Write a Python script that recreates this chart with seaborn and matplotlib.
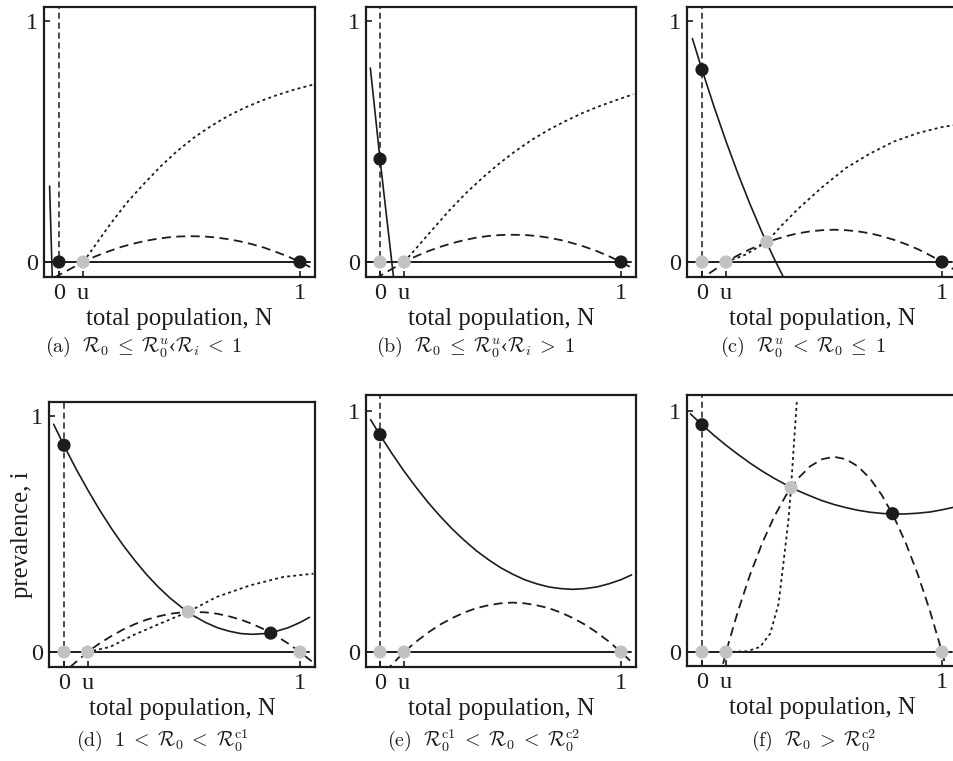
import matplotlib
matplotlib.use("Agg")
import matplotlib.pyplot as plt
import seaborn as sns

# x positions of the tick marks: 0, u, 1
tick_pos = [0.0, 0.1, 1.0]
tick_labels = ["0", "u", "1"]

# dashed parabola (shared x grid)
dash_x = [-0.02, 0.1, 0.15, 0.2, 0.25, 0.3, 0.35, 0.4, 0.45, 0.5, 0.55, 0.6, 0.65,
          0.7, 0.75, 0.8, 0.85, 0.9, 0.95, 1.0, 1.05]
a_dash_y = [-0.065, 0, 0.023, 0.042, 0.060, 0.074, 0.086, 0.095, 0.102, 0.106, 0.107,
            0.106, 0.102, 0.095, 0.086, 0.074, 0.060, 0.042, 0.023, 0, -0.025]
b_dash_y = [-0.069, 0, 0.024, 0.045, 0.063, 0.078, 0.091, 0.101, 0.108, 0.112, 0.113,
            0.112, 0.108, 0.101, 0.091, 0.078, 0.063, 0.045, 0.024, 0, -0.027]
c_dash_y = [-0.081, 0, 0.028, 0.053, 0.074, 0.092, 0.107, 0.119, 0.127, 0.132, 0.134,
            0.132, 0.127, 0.119, 0.107, 0.092, 0.074, 0.053, 0.028, 0, -0.031]
d_dash_y = [-0.103, 0, 0.036, 0.067, 0.095, 0.118, 0.137, 0.151, 0.162, 0.168, 0.170,
            0.168, 0.162, 0.151, 0.137, 0.118, 0.095, 0.067, 0.036, 0, -0.040]
e_dash_y = [-0.124, 0, 0.043, 0.081, 0.114, 0.141, 0.164, 0.182, 0.194, 0.202, 0.205,
            0.202, 0.194, 0.182, 0.164, 0.141, 0.114, 0.081, 0.043, 0, -0.048]
f_dash_y = [-0.49, 0, 0.17, 0.32, 0.45, 0.56, 0.65, 0.72, 0.77, 0.80, 0.81,
            0.80, 0.77, 0.72, 0.65, 0.56, 0.45, 0.32, 0.17, 0, -0.19]

# solid curves
a_solid_x = [-0.039, -0.028]
a_solid_y = [0.315, -0.062]
b_solid_x = [-0.04, 0.0, 0.03, 0.056]
b_solid_y = [0.805, 0.427, 0.165, -0.062]
c_solid_x = [-0.04, 0.0, 0.05, 0.1, 0.15, 0.2, 0.25, 0.3, 0.343]
c_solid_y = [0.927, 0.798, 0.645, 0.501, 0.366, 0.24, 0.123, 0.015, -0.07]
d_solid_x = [-0.044, 0, 0.05, 0.1, 0.15, 0.2, 0.25, 0.3, 0.35, 0.4, 0.45, 0.5, 0.55,
             0.6, 0.65, 0.7, 0.75, 0.8, 0.85, 0.9, 0.95, 1.0, 1.04]
d_solid_y = [0.965, 0.875, 0.778, 0.688, 0.603, 0.525, 0.453, 0.388, 0.328, 0.275,
             0.228, 0.188, 0.153, 0.125, 0.103, 0.088, 0.078, 0.075, 0.078, 0.088,
             0.103, 0.125, 0.147]
e_solid_x = [-0.039, 0, 0.05, 0.1, 0.15, 0.2, 0.25, 0.3, 0.35, 0.4, 0.45, 0.5, 0.55,
             0.6, 0.65, 0.7, 0.75, 0.8, 0.85, 0.9, 0.95, 1.0, 1.044]
e_solid_y = [0.964, 0.90, 0.823, 0.75, 0.683, 0.62, 0.563, 0.51, 0.463, 0.42, 0.383,
             0.35, 0.323, 0.30, 0.283, 0.27, 0.263, 0.26, 0.263, 0.27, 0.283, 0.30, 0.32]
f_solid_x = [-0.048, 0, 0.05, 0.1, 0.15, 0.2, 0.25, 0.3, 0.35, 0.4, 0.45, 0.5, 0.55,
             0.6, 0.65, 0.7, 0.75, 0.8, 0.85, 0.9, 0.95, 1.0, 1.046]
f_solid_y = [0.988, 0.943, 0.899, 0.858, 0.820, 0.784, 0.751, 0.721, 0.694, 0.669,
             0.648, 0.628, 0.612, 0.599, 0.588, 0.580, 0.575, 0.572, 0.573, 0.576,
             0.581, 0.590, 0.600]

# dotted curves
a_dot_x = [0.101, 0.145, 0.214, 0.284, 0.353, 0.422, 0.491, 0.560, 0.629, 0.698,
           0.768, 0.837, 0.906, 0.975, 1.058]
a_dot_y = [0, 0.062, 0.159, 0.249, 0.325, 0.397, 0.461, 0.516, 0.563, 0.604,
           0.639, 0.668, 0.693, 0.715, 0.737]
b_dot_x = [0.1, 0.145, 0.217, 0.286, 0.355, 0.425, 0.494, 0.563, 0.632, 0.701,
           0.770, 0.840, 0.909, 0.978, 1.051]
b_dot_y = [0, 0.051, 0.134, 0.212, 0.284, 0.349, 0.408, 0.461, 0.508, 0.549,
           0.585, 0.618, 0.646, 0.671, 0.696]
c_dot_x = [0.1, 0.18, 0.27, 0.33, 0.4, 0.5, 0.6, 0.7, 0.8, 0.9, 1.0, 1.046]
c_dot_y = [0, 0.03, 0.083, 0.15, 0.22, 0.31, 0.39, 0.45, 0.50, 0.535, 0.56, 0.567]
d_dot_x = [0.098, 0.194, 0.293, 0.406, 0.526, 0.646, 0.788, 0.929, 1.057]
d_dot_y = [0, 0.021, 0.071, 0.12, 0.17, 0.233, 0.282, 0.318, 0.332]
f_dot_x = [0.1, 0.187, 0.242, 0.284, 0.319, 0.339, 0.360, 0.371, 0.384, 0.395]
f_dot_y = [0, 0.003, 0.021, 0.076, 0.2, 0.367, 0.546, 0.682, 0.878, 1.037]

# equilibria: black = stable, grey = unstable
a_black = ([0, 1], [0, 0]);            a_grey = ([0.1], [0])
b_black = ([0, 1], [0.427, 0]);        b_grey = ([0, 0.1], [0, 0])
c_black = ([0, 1], [0.798, 0]);        c_grey = ([0, 0.1, 0.27], [0, 0, 0.083])
d_black = ([0, 0.876], [0.876, 0.08]); d_grey = ([0, 0.1, 0.526, 1], [0, 0, 0.17, 0])
e_black = ([0], [0.902]);              e_grey = ([0, 0.1, 1], [0, 0, 0])
f_black = ([0, 0.794], [0.943, 0.574]); f_grey = ([0, 0.1, 0.371, 1], [0, 0, 0.682, 0])

captions = [
    r"$\mathrm{(a)}\ \ \mathcal{R}_0 \;\leq\; \mathcal{R}_0^{u}$" + "‹" + r"$\mathcal{R}_i \;<\; 1$",
    r"$\mathrm{(b)}\ \ \mathcal{R}_0 \;\leq\; \mathcal{R}_0^{u}$" + "‹" + r"$\mathcal{R}_i \;>\; 1$",
    r"$\mathrm{(c)}\ \ \mathcal{R}_0^{u} \;<\; \mathcal{R}_0 \;\leq\; 1$",
    r"$\mathrm{(d)}\ \ 1 \;<\; \mathcal{R}_0 \;<\; \mathcal{R}_0^{\mathrm{c1}}$",
    r"$\mathrm{(e)}\ \ \mathcal{R}_0^{\mathrm{c1}} \;<\; \mathcal{R}_0 \;<\; \mathcal{R}_0^{\mathrm{c2}}$",
    r"$\mathrm{(f)}\ \ \mathcal{R}_0 \;>\; \mathcal{R}_0^{\mathrm{c2}}$",
]

sns.set_style("ticks")
plt.rcParams["font.family"] = ["Liberation Serif", "DejaVu Serif"]
plt.rcParams["mathtext.fontset"] = "cm"

W, H = 954, 761
fig = plt.figure(figsize=(W / 100, H / 100), dpi=100)

# pixel boxes (left, top, right, bottom), x0/x1 px for N=0/1, y0/y1 px for i=0/1
panels = [
    dict(box=(44, 7, 315, 277), x01=(59, 300), y01=(262, 21), cap=(144, 347)),
    dict(box=(366, 7, 636, 277), x01=(380, 621), y01=(262, 21), cap=(475, 347)),
    dict(box=(687, 7, 957, 277), x01=(702, 942), y01=(262, 21), cap=(803, 347)),
    dict(box=(49, 402, 315, 667), x01=(64, 300), y01=(652, 416), cap=(162, 740)),
    dict(box=(366, 395, 636, 667), x01=(380, 621), y01=(652, 411), cap=(483, 740)),
    dict(box=(687, 395, 957, 666), x01=(702, 942), y01=(652, 411), cap=(813, 740)),
]

dash_sets = [a_dash_y, b_dash_y, c_dash_y, d_dash_y, e_dash_y, f_dash_y]
solid_sets = [(a_solid_x, a_solid_y), (b_solid_x, b_solid_y), (c_solid_x, c_solid_y),
              (d_solid_x, d_solid_y), (e_solid_x, e_solid_y), (f_solid_x, f_solid_y)]
dot_sets = [(a_dot_x, a_dot_y), (b_dot_x, b_dot_y), (c_dot_x, c_dot_y),
            (d_dot_x, d_dot_y), None, (f_dot_x, f_dot_y)]
black_sets = [a_black, b_black, c_black, d_black, e_black, f_black]
grey_sets = [a_grey, b_grey, c_grey, d_grey, e_grey, f_grey]

ink = "#1c1c1c"
grey = "#c2c2c2"

for k, p in enumerate(panels):
    l, t, r, b = p["box"]
    ax = fig.add_axes([l / W, 1 - b / H, (r - l) / W, (b - t) / H])
    x0, x1 = p["x01"]
    y0, y1 = p["y01"]
    sx = x1 - x0
    sy = y0 - y1
    ax.set_xlim((l - x0) / sx, (r - x0) / sx)
    ax.set_ylim((y0 - b) / sy, (y0 - t) / sy)

    # nullclines i = 0 and N = 0
    ax.plot([-0.1, 1.04], [0, 0], color=ink, lw=1.4, zorder=2)
    ax.axvline(0, color=ink, lw=1.1, ls=(0, (4, 2.5)), zorder=2)

    sns.lineplot(x=dash_x, y=dash_sets[k], ax=ax, color=ink, lw=1.3,
                 linestyle=(0, (5, 3)), estimator=None, zorder=3)
    sx_, sy_ = solid_sets[k]
    sns.lineplot(x=sx_, y=sy_, ax=ax, color=ink, lw=1.2, estimator=None, zorder=3)
    if dot_sets[k] is not None:
        dx_, dy_ = dot_sets[k]
        sns.lineplot(x=dx_, y=dy_, ax=ax, color=ink, lw=1.3,
                     linestyle=(0, (1.6, 1.8)), estimator=None, zorder=3)

    bx, by = black_sets[k]
    gx, gy = grey_sets[k]
    sns.scatterplot(x=gx, y=gy, ax=ax, color=grey, s=90, edgecolor="none", zorder=5)
    sns.scatterplot(x=bx, y=by, ax=ax, color=ink, s=90, edgecolor="none", zorder=6)

    ax.set_xticks(tick_pos)
    ax.set_xticklabels(tick_labels)
    ax.set_yticks([0, 1])
    ax.set_yticklabels(["0", "1"])
    ax.tick_params(direction="in", length=4, width=1.2, labelsize=17.5, pad=4, colors=ink)
    for s in ax.spines.values():
        s.set_linewidth(1.6)
        s.set_color(ink)
    ax.set_xlabel("total population, N", fontsize=17.8, labelpad=3, color=ink)
    ax.set_ylabel("")
    if k == 3:
        ax.set_ylabel("prevalence, i", fontsize=17.8, labelpad=-1, color=ink)

    cx, cy = p["cap"]
    fig.text(cx / W, 1 - cy / H, captions[k], ha="center", va="center",
             fontsize=14.5, color=ink)

fig.savefig("out.png", dpi=100)
